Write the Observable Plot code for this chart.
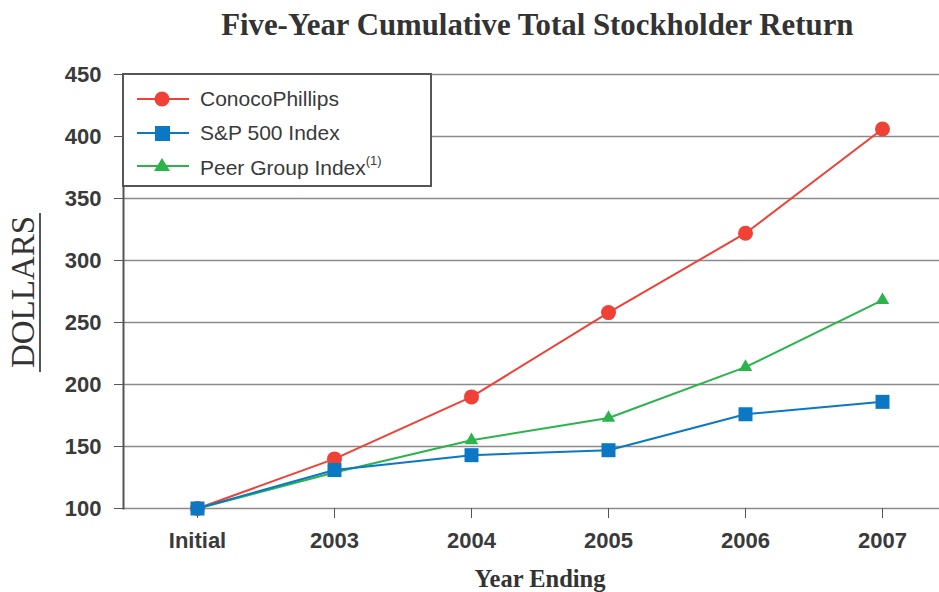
<!DOCTYPE html>
<html><head><meta charset="utf-8">
<script src="https://cdn.jsdelivr.net/npm/d3@7"></script>
<script src="https://cdn.jsdelivr.net/npm/@observablehq/plot@0.6"></script>
<style>
body{margin:0;background:#fff;}
#wrap{position:relative;width:939px;height:592px;overflow:hidden;background:#fff;}
#wrap svg.plot{position:absolute;left:0;top:0;}
.title{position:absolute;left:0;width:939px;top:8px;line-height:1;text-align:center;font-family:"Liberation Serif","Times New Roman",serif;font-weight:bold;font-size:32px;color:#333;white-space:nowrap;}
.title span{display:inline-block;transform:scaleX(0.963);transform-origin:center;margin-left:136px;}
.ylab{position:absolute;left:23px;top:292px;transform:translate(-50%,-50%) rotate(-90deg);font-family:"Liberation Serif","Times New Roman",serif;font-size:33px;color:#333;white-space:nowrap;}
.yline{position:absolute;left:39px;top:213px;width:2px;height:159px;background:#555;}
.xlab{position:absolute;left:0;width:939px;top:567px;line-height:1;text-align:center;font-family:"Liberation Serif","Times New Roman",serif;font-weight:bold;font-size:24.5px;color:#333;white-space:nowrap;}
.xlab span{margin-left:141px;}
.legend{position:absolute;left:122px;top:73px;width:306px;height:110px;border:2px solid #555;background:#fff;font-family:"Liberation Sans",Arial,sans-serif;font-size:21px;color:#3a3a3a;}
.row{position:absolute;left:13px;height:30px;display:flex;align-items:center;}
.row svg{margin-right:11px;}
sup{font-size:13px;vertical-align:10px;}
</style></head><body><div id="wrap"></div><script>
const categories = ["Initial", "2003", "2004", "2005", "2006", "2007"];
const seriesNames = ["ConocoPhillips", "S&P 500 Index", "Peer Group Index"];
const conocoValues = [100, 140, 190, 258, 322, 406];
const sp500Values = [100, 131, 143, 147, 176, 186];
const peerValues = [100, 129, 155, 173, 214, 268];
const yTicks = [100, 150, 200, 250, 300, 350, 400, 450];
const seriesColors = ["#ef4136", "#0a78c2", "#2bb34c"];
const seriesSymbols = ["circle", "square", "triangle"];
const seriesRadius = [7.5, 7.9, 5];

const valuesBySeries = [conocoValues, sp500Values, peerValues];
const rows = [];
valuesBySeries.forEach((vals, s) => vals.forEach((v, i) => rows.push({series: seriesNames[s], cat: categories[i], value: v})));

const drawOrder = [0, 2, 1];
const seriesMarks = drawOrder.flatMap(s => {
  const d = rows.filter(r => r.series === seriesNames[s]);
  return [
    Plot.line(d, {x: "cat", y: "value", stroke: seriesColors[s], strokeWidth: 2}),
    Plot.dot(d, {x: "cat", y: "value", fill: seriesColors[s], stroke: "none", symbol: seriesSymbols[s], r: seriesRadius[s]})
  ];
});

const chart = Plot.plot({
  width: 939, height: 592,
  marginTop: 74, marginBottom: 84, marginLeft: 123, marginRight: 0,
  style: {fontFamily: "'Liberation Sans', Arial, sans-serif", color: "#3a3a3a", background: "transparent", overflow: "visible"},
  x: {type: "point", domain: categories, range: [195, 883], padding: 0},
  y: {domain: [100, 450]},
  marks: [
    Plot.ruleY(yTicks, {stroke: "#8a8a8a", strokeWidth: 1.6}),
    Plot.frame({anchor: "left", stroke: "#555", strokeWidth: 2}),
    Plot.axisY({ticks: yTicks, tickSize: 9, tickPadding: 13, fontSize: 22, fontWeight: "bold", label: null, stroke: "#555"}),
    Plot.axisX({tickSize: 10, tickPadding: 14, fontSize: 22, fontWeight: "bold", label: null, stroke: "#555"}),
    ...seriesMarks
  ]
});
const wrap = document.getElementById("wrap");
chart.classList.add("plot");
wrap.appendChild(chart);

function el(cls, html) { const d = document.createElement("div"); d.className = cls; d.innerHTML = html; wrap.appendChild(d); return d; }
el("title", "<span>Five-Year Cumulative Total Stockholder Return</span>");
el("ylab", "DOLLARS");
el("yline", "");
el("xlab", "<span>Year Ending</span>");

const legend = el("legend", "");
const sym = (s) => {
  const c = seriesColors[s];
  let m;
  if (s === 0) m = `<circle cx="25" cy="12" r="7.5" fill="${c}"/>`;
  else if (s === 1) m = `<rect x="18" y="5" width="15" height="15" fill="${c}"/>`;
  else m = `<path d="M25,4 L33,17 L17,17 Z" fill="${c}"/>`;
  return `<svg width="52" height="24"><line x1="0" x2="52" y1="12" y2="12" stroke="${c}" stroke-width="2"/>${m}</svg>`;
};
const labels = [seriesNames[0], seriesNames[1], seriesNames[2] + "<sup>(1)</sup>"];
[0, 1, 2].forEach(s => {
  const r = document.createElement("div");
  r.className = "row";
  r.style.top = (9 + s * 33.5) + "px";
  r.innerHTML = sym(s) + `<span>${labels[s]}</span>`;
  legend.appendChild(r);
});
</script></body></html>
